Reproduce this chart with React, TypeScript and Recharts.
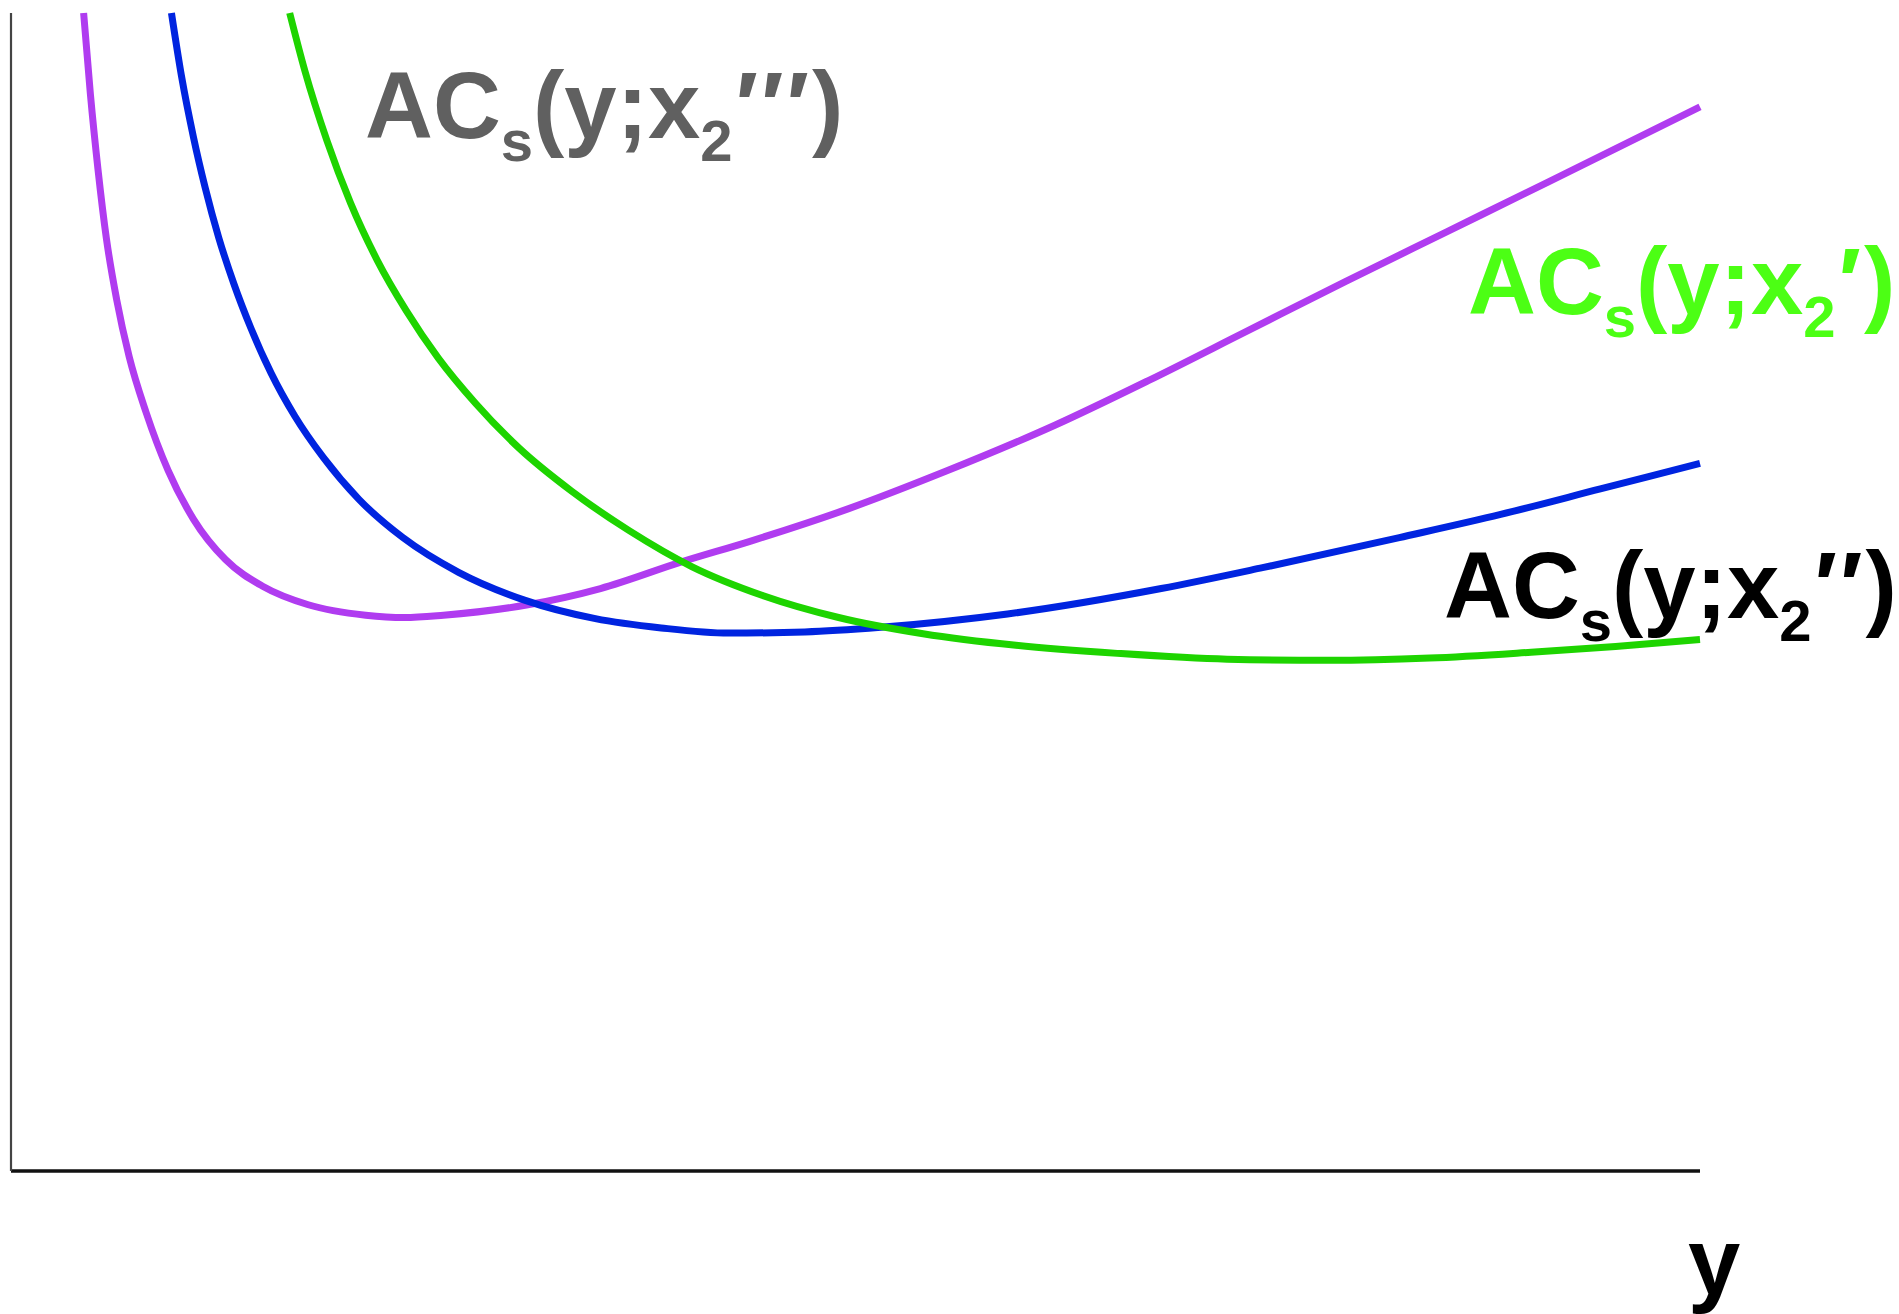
/**
 * Short-run average cost curves AC_s(y; x2) for three fixed plant sizes.
 */
import { LineChart, Line, XAxis, YAxis, Customized } from "recharts"

// [output y, average cost], both on a 0–100 scale
const acX2Prime: [number, number][] = [
  [16.5, 100], [17.4, 95.0], [18.7, 89.0], [20.1, 83.6], [21.7, 78.6], [23.4, 74.3],
  [25.3, 70.2], [27.5, 66.3], [30.1, 62.4], [33.2, 58.7], [36.6, 55.3], [40.3, 52.2],
  [44.5, 49.7], [49.0, 47.8], [54.0, 46.4], [59.5, 45.4], [65.5, 44.7], [72.0, 44.2],
  [78.0, 44.1], [84.0, 44.3], [90.0, 44.8], [95.0, 45.3], [100, 45.9],
]

const acX2DoublePrime: [number, number][] = [
  [9.5, 100], [10.1, 94.5], [10.8, 89.3], [11.5, 84.9], [12.3, 80.6], [13.2, 76.6],
  [14.2, 72.8], [15.4, 68.9], [16.8, 65.2], [18.5, 61.6], [20.6, 58.0], [23.2, 54.7],
  [26.5, 51.7], [30.4, 49.3], [34.6, 47.7], [38.5, 46.9], [42.5, 46.45], [47.0, 46.55],
  [51.5, 46.95], [59.0, 48.1], [68.1, 50.3], [74.1, 52.1], [82.2, 54.7], [88.2, 56.7],
  [94.1, 58.9], [100, 61.1],
]

const acX2TriplePrime: [number, number][] = [
  [4.3, 100], [4.7, 93.0], [5.15, 86.5], [5.65, 80.5], [6.25, 75.3], [7.0, 70.3],
  [8.0, 65.5], [9.3, 60.5], [10.8, 56.3], [12.7, 52.8], [14.9, 50.5], [17.6, 48.9],
  [21.0, 48.0], [23.3, 47.8], [25.6, 48.0], [30.6, 48.9], [34.9, 50.3], [39.7, 52.6],
  [43.8, 54.4], [49.6, 57.2], [55.3, 60.4], [61.8, 64.4], [67.4, 68.3], [73.0, 72.4],
  [79.0, 76.8], [85.0, 81.1], [91.0, 85.4], [100, 91.9],
]

const toRows = (pts: [number, number][]) => pts.map(([y, ac]) => ({ y, ac }))

const FONT = "'Liberation Sans', Arial, Helvetica, sans-serif"

function CurveLabel({ x, y, fill, primes }: { x: number; y: number; fill: string; primes: string }) {
  return (
    <text x={x} y={y} fontSize={94} fontWeight={700} fontFamily={FONT} fill={fill}>
      AC
      <tspan fontSize={58} dy={23}>s</tspan>
      <tspan dy={-23}>(y;x</tspan>
      <tspan fontSize={58} dy={23}>2</tspan>
      <tspan dy={-23} dx={3} letterSpacing={3}>{primes}</tspan>
      <tspan>)</tspan>
    </text>
  )
}

function Labels() {
  return (
    <g>
      <CurveLabel x={365} y={138} fill="#606060" primes={"\u2032\u2032\u2032"} />
      <CurveLabel x={1468} y={314} fill="#4cff14" primes={"\u2032"} />
      <CurveLabel x={1444} y={618} fill="#000000" primes={"\u2032\u2032"} />
      <text x={1688} y={1294} fontSize={94} fontWeight={700} fontFamily={FONT} fill="#000">
        y
      </text>
    </g>
  )
}

export default function App() {
  return (
    <div style={{ position: "absolute", left: 0, top: 0, background: "#fff" }}>
      <LineChart width={1899} height={1314} margin={{ top: 13, right: 199, bottom: 113, left: 1 }}>
        <XAxis
          type="number"
          dataKey="y"
          domain={[0, 100]}
          height={30}
          tick={false}
          tickLine={false}
          axisLine={{ stroke: "#111", strokeWidth: 3.5 }}
        />
        <YAxis
          type="number"
          dataKey="ac"
          domain={[0, 100]}
          width={10}
          tick={false}
          tickLine={false}
          axisLine={{ stroke: "#444", strokeWidth: 2.2 }}
        />
        <Line data={toRows(acX2TriplePrime)} dataKey="ac" type="monotone" stroke="#b03cf0"
          strokeWidth={7} dot={false} isAnimationActive={false} />
        <Line data={toRows(acX2DoublePrime)} dataKey="ac" type="monotone" stroke="#0024e0"
          strokeWidth={7} dot={false} isAnimationActive={false} />
        <Line data={toRows(acX2Prime)} dataKey="ac" type="monotone" stroke="#1ed400"
          strokeWidth={7} dot={false} isAnimationActive={false} />
        <Customized component={<Labels />} />
      </LineChart>
    </div>
  )
}
